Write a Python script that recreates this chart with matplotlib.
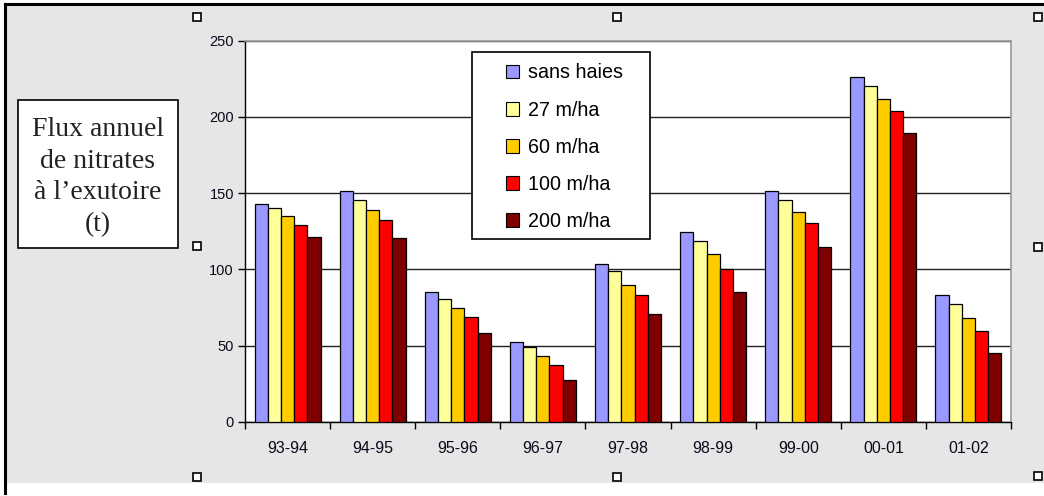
import numpy as np
import matplotlib
matplotlib.use("Agg")
import matplotlib.pyplot as plt
from matplotlib.patches import Rectangle, Patch
from matplotlib.lines import Line2D

plt.rcParams['font.family'] = ['Liberation Sans', 'DejaVu Sans']

# data
years = ["93-94", "94-95", "95-96", "96-97", "97-98", "98-99", "99-00", "00-01", "01-02"]
series_names = ["sans haies", "27 m/ha", "60 m/ha", "100 m/ha", "200 m/ha"]
sans_haies = [142.7, 151.2, 84.9, 52.5, 103.3, 124.5, 151.2, 226.0, 83.1]
h27 = [140.5, 145.5, 80.3, 48.8, 98.7, 118.8, 145.5, 220.3, 77.4]
h60 = [134.8, 138.9, 74.6, 42.9, 89.9, 110.0, 137.8, 211.7, 67.8]
h100 = [129.1, 132.1, 68.9, 37.2, 83.1, 100.4, 130.4, 204.1, 59.3]
h200 = [121.5, 120.5, 58.2, 27.6, 70.7, 85.1, 114.8, 189.4, 44.9]
colors = ["#9999FF", "#FFFF99", "#FFCC00", "#FF0000", "#800000"]

W, H = 1044, 496
fig = plt.figure(figsize=(W / 100, H / 100), dpi=100)
fig.patch.set_facecolor("white")

def fx(x):
    return x / W

def fy(y):
    return 1 - y / H

# grey chart background + border
fig.patches.append(Rectangle((fx(5), fy(483)), fx(1044) - fx(5), fy(4) - fy(483),
                             transform=fig.transFigure, facecolor="#e6e6e6",
                             edgecolor="none", zorder=-5))
fig.lines.append(Line2D([fx(5), fx(1044)], [fy(4), fy(4)], transform=fig.transFigure,
                        color="black", lw=2.2))
fig.lines.append(Line2D([fx(5), fx(5)], [fy(4), fy(493)], transform=fig.transFigure,
                        color="black", lw=2.2))

ax = fig.add_axes([fx(245), fy(421.7), fx(1011) - fx(245), fy(40.7) - fy(421.7)])
ax.set_facecolor("white")

data = [sans_haies, h27, h60, h100, h200]
x = np.arange(len(years))
bw = 0.155
for i, (vals, c) in enumerate(zip(data, colors)):
    ax.bar(x + (i - 2) * bw, vals, bw, color=c, edgecolor="black", linewidth=0.9,
           zorder=3, label=series_names[i])

ax.set_xlim(-0.5, len(years) - 0.5)
ax.set_ylim(0, 250)
ax.set_yticks([0, 50, 100, 150, 200, 250])
ax.set_xticks(x)
ax.set_xticklabels(years, fontsize=11.5, color="#0a0a1a")
ax.set_xticks(np.arange(-0.5, len(years)), minor=True)
ax.tick_params(axis="x", which="major", length=0, pad=14)
ax.tick_params(axis="x", which="minor", length=5, width=1, direction="out")
ax.tick_params(axis="y", length=5, width=1, direction="out", labelsize=10.5,
               labelcolor="#0a0a1a", pad=3)
ax.yaxis.grid(True, color="#222222", lw=1, zorder=1)
ax.set_axisbelow(True)
for s in ["top", "right"]:
    ax.spines[s].set_color("#999999")
    ax.spines[s].set_linewidth(1.2)
for s in ["left", "bottom"]:
    ax.spines[s].set_color("black")
    ax.spines[s].set_linewidth(1)

# legend box
fig.patches.append(Rectangle((fx(472), fy(239)), fx(650) - fx(472), fy(52) - fy(239),
                             transform=fig.transFigure, facecolor="white",
                             edgecolor="black", lw=1.2, zorder=5))
handles = [Patch(facecolor=c, edgecolor="black", lw=0.8) for c in colors]
leg = fig.legend(handles, series_names, loc="upper left",
                 bbox_to_anchor=(fx(506), fy(63.5)), bbox_transform=fig.transFigure,
                 frameon=False, fontsize=14.2, handlelength=0.68, handleheight=0.68,
                 handletextpad=0.42, labelspacing=0.92, borderpad=0, borderaxespad=0)
leg.set_zorder(6)

# left title box
fig.patches.append(Rectangle((fx(18), fy(248)), fx(178) - fx(18), fy(100) - fy(248),
                             transform=fig.transFigure, facecolor="white",
                             edgecolor="black", lw=1.2, zorder=5))
fig.text(fx(98), fy(177), "Flux annuel\nde nitrates\nà l’exutoire\n(t)",
         family=["Liberation Serif", "DejaVu Serif"], fontsize=20, color="#222222",
         ha="center", va="center", multialignment="center", linespacing=1.35, zorder=6)

# selection handles
hx = [197, 617, 1038, 197, 1038, 197, 617, 1038]
hy = [17, 17, 17, 246, 247, 477, 477, 476]
fig.lines.append(Line2D([fx(v) for v in hx], [fy(v) for v in hy], transform=fig.transFigure,
                        ls="none", marker="s", ms=6, mfc="white", mec="black", mew=1.2))

fig.savefig("out.png", dpi=100)
